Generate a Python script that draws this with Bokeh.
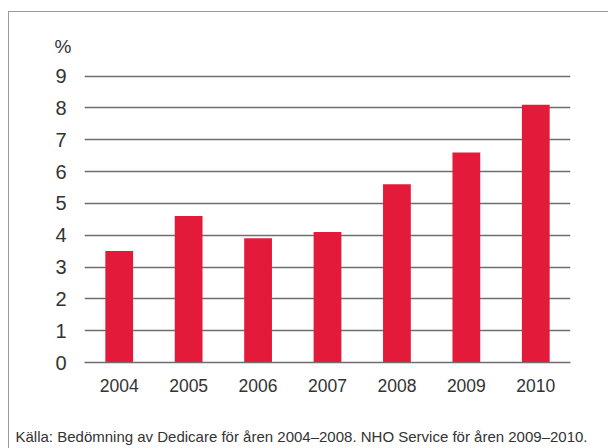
from bokeh.plotting import figure
from bokeh.models import Title, FixedTicker, InlineStyleSheet
from bokeh.embed import file_html
from bokeh.resources import INLINE

years = ["2004", "2005", "2006", "2007", "2008", "2009", "2010"]
values = [3.5, 4.6, 3.9, 4.1, 5.6, 6.6, 8.1]
y_ticks = [0, 1, 2, 3, 4, 5, 6, 7, 8, 9]
unit_label = "%"
caption = "Källa: Bedömning av Dedicare för åren 2004–2008. NHO Service för åren 2009–2010."

FONT = "Liberation Sans"
TXT = "#333333"
GRID = "#6e6e6e"

p = figure(x_range=years, y_range=(0, 9.3), width=608, height=448,
           output_backend="svg", toolbar_location=None,
           min_border_left=84, min_border_right=38, min_border_top=66, min_border_bottom=86)
p.outline_line_color = None
p.background_fill_color = "white"
p.border_fill_color = "white"

p.vbar(x=years, top=values, width=0.4, color="#E31A3A", line_color=None)

p.xgrid.grid_line_color = None
p.ygrid.grid_line_color = GRID
p.ygrid.grid_line_width = 1.5
p.yaxis.ticker = FixedTicker(ticks=y_ticks)

for ax in (p.xaxis, p.yaxis):
    ax.major_tick_line_color = None
    ax.minor_tick_line_color = None
    ax.major_label_text_font = FONT
    ax.major_label_text_color = TXT
p.yaxis.major_label_text_font_size = "20px"
p.xaxis.major_label_text_font_size = "17.5px"
p.yaxis.axis_line_color = None
p.xaxis.axis_line_color = GRID
p.xaxis.axis_line_width = 1.5
p.yaxis.major_label_standoff = 12
p.xaxis.major_label_standoff = 10
# blank axis label used only as spacing between the year labels and the caption
p.xaxis.axis_label = "\u00a0"
p.xaxis.axis_label_text_font_size = "10px"
p.xaxis.axis_label_standoff = 13

# unit label above the y axis
p.add_layout(Title(text=unit_label, align="left", offset=-30, standoff=19,
                   text_font=FONT, text_font_size="19px", text_font_style="normal",
                   text_color=TXT), "above")

# source caption
p.add_layout(Title(text=caption, align="left", offset=-69, standoff=8,
                   text_font=FONT, text_font_size="15px", text_font_style="normal",
                   text_color=TXT), "below")

# thin frame line (left and top) around the whole graphic
p.stylesheets = [InlineStyleSheet(css=""":host { position: relative; }
:host::after { content: ''; position: absolute; left: 8px; top: 11px; right: 0; bottom: 0;
  border-left: 1px solid #9a9a9a; border-top: 1px solid #9a9a9a; pointer-events: none; }""")]

open("out.html", "w").write(file_html(p, INLINE))
